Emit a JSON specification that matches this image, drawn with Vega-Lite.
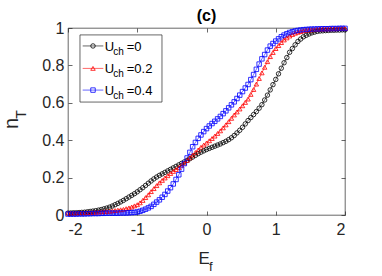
{
"$schema": "https://vega.github.io/schema/vega-lite/v6.json",
"width": 277, "height": 187,
"autosize": "none",
"padding": {"left": 68, "top": 28, "right": 37, "bottom": 61},
"background": "white",
"config": {"font": "Liberation Sans", "view": {"stroke": "#262626", "strokeWidth": 0.7},
  "axis": {"grid": false, "domain": false, "tickSize": -4, "tickColor": "#262626", "tickWidth": 0.7, "labelFont": "Liberation Sans", "labelFontSize": 16, "labelColor": "#262626"}},
"title": {"text": "(c)", "fontSize": 16, "fontWeight": "bold", "font": "Liberation Sans", "color": "#000000", "offset": -4},
"datasets": {"d": [
{"E":-2.00,"a":0.010,"b":0.010,"c":0.005},
{"E":-1.96,"a":0.011,"b":0.010,"c":0.005},
{"E":-1.92,"a":0.012,"b":0.011,"c":0.005},
{"E":-1.88,"a":0.012,"b":0.011,"c":0.005},
{"E":-1.84,"a":0.013,"b":0.012,"c":0.006},
{"E":-1.80,"a":0.014,"b":0.012,"c":0.006},
{"E":-1.76,"a":0.015,"b":0.012,"c":0.006},
{"E":-1.72,"a":0.017,"b":0.013,"c":0.007},
{"E":-1.68,"a":0.019,"b":0.013,"c":0.007},
{"E":-1.64,"a":0.021,"b":0.014,"c":0.008},
{"E":-1.60,"a":0.023,"b":0.015,"c":0.008},
{"E":-1.56,"a":0.026,"b":0.016,"c":0.008},
{"E":-1.52,"a":0.029,"b":0.017,"c":0.009},
{"E":-1.48,"a":0.033,"b":0.018,"c":0.009},
{"E":-1.44,"a":0.037,"b":0.019,"c":0.010},
{"E":-1.40,"a":0.042,"b":0.020,"c":0.010},
{"E":-1.36,"a":0.048,"b":0.022,"c":0.010},
{"E":-1.32,"a":0.055,"b":0.024,"c":0.010},
{"E":-1.28,"a":0.062,"b":0.026,"c":0.010},
{"E":-1.24,"a":0.070,"b":0.028,"c":0.011},
{"E":-1.20,"a":0.078,"b":0.030,"c":0.011},
{"E":-1.16,"a":0.087,"b":0.034,"c":0.011},
{"E":-1.12,"a":0.096,"b":0.038,"c":0.012},
{"E":-1.08,"a":0.105,"b":0.043,"c":0.013},
{"E":-1.04,"a":0.114,"b":0.049,"c":0.014},
{"E":-1.00,"a":0.124,"b":0.055,"c":0.016},
{"E":-0.96,"a":0.135,"b":0.065,"c":0.020},
{"E":-0.92,"a":0.146,"b":0.078,"c":0.025},
{"E":-0.88,"a":0.158,"b":0.093,"c":0.031},
{"E":-0.84,"a":0.170,"b":0.108,"c":0.038},
{"E":-0.80,"a":0.182,"b":0.125,"c":0.046},
{"E":-0.76,"a":0.193,"b":0.141,"c":0.057},
{"E":-0.72,"a":0.203,"b":0.157,"c":0.069},
{"E":-0.68,"a":0.212,"b":0.172,"c":0.081},
{"E":-0.64,"a":0.220,"b":0.185,"c":0.095},
{"E":-0.60,"a":0.228,"b":0.198,"c":0.110},
{"E":-0.56,"a":0.236,"b":0.210,"c":0.128},
{"E":-0.52,"a":0.244,"b":0.222,"c":0.146},
{"E":-0.48,"a":0.252,"b":0.233,"c":0.166},
{"E":-0.44,"a":0.260,"b":0.243,"c":0.190},
{"E":-0.40,"a":0.268,"b":0.254,"c":0.215},
{"E":-0.36,"a":0.276,"b":0.266,"c":0.245},
{"E":-0.32,"a":0.284,"b":0.278,"c":0.275},
{"E":-0.28,"a":0.292,"b":0.292,"c":0.305},
{"E":-0.24,"a":0.301,"b":0.306,"c":0.335},
{"E":-0.20,"a":0.310,"b":0.320,"c":0.365},
{"E":-0.16,"a":0.319,"b":0.334,"c":0.388},
{"E":-0.12,"a":0.328,"b":0.348,"c":0.410},
{"E":-0.08,"a":0.336,"b":0.362,"c":0.428},
{"E":-0.04,"a":0.343,"b":0.374,"c":0.446},
{"E":0.00,"a":0.350,"b":0.385,"c":0.462},
{"E":0.04,"a":0.356,"b":0.397,"c":0.476},
{"E":0.08,"a":0.362,"b":0.409,"c":0.489},
{"E":0.12,"a":0.368,"b":0.422,"c":0.501},
{"E":0.16,"a":0.374,"b":0.436,"c":0.514},
{"E":0.20,"a":0.380,"b":0.450,"c":0.527},
{"E":0.24,"a":0.387,"b":0.466,"c":0.542},
{"E":0.28,"a":0.394,"b":0.482,"c":0.557},
{"E":0.32,"a":0.403,"b":0.499,"c":0.573},
{"E":0.36,"a":0.413,"b":0.517,"c":0.589},
{"E":0.40,"a":0.425,"b":0.535,"c":0.605},
{"E":0.44,"a":0.439,"b":0.551,"c":0.623},
{"E":0.48,"a":0.453,"b":0.567,"c":0.641},
{"E":0.52,"a":0.469,"b":0.584,"c":0.660},
{"E":0.56,"a":0.487,"b":0.602,"c":0.679},
{"E":0.60,"a":0.505,"b":0.620,"c":0.698},
{"E":0.64,"a":0.521,"b":0.645,"c":0.724},
{"E":0.68,"a":0.537,"b":0.671,"c":0.751},
{"E":0.72,"a":0.553,"b":0.700,"c":0.779},
{"E":0.76,"a":0.571,"b":0.730,"c":0.807},
{"E":0.80,"a":0.590,"b":0.760,"c":0.835},
{"E":0.84,"a":0.615,"b":0.790,"c":0.858},
{"E":0.88,"a":0.641,"b":0.820,"c":0.882},
{"E":0.92,"a":0.669,"b":0.847,"c":0.903},
{"E":0.96,"a":0.697,"b":0.869,"c":0.917},
{"E":1.00,"a":0.725,"b":0.890,"c":0.930},
{"E":1.04,"a":0.755,"b":0.906,"c":0.942},
{"E":1.08,"a":0.785,"b":0.922,"c":0.953},
{"E":1.12,"a":0.814,"b":0.936,"c":0.962},
{"E":1.16,"a":0.842,"b":0.947,"c":0.969},
{"E":1.20,"a":0.870,"b":0.957,"c":0.976},
{"E":1.24,"a":0.890,"b":0.965,"c":0.980},
{"E":1.28,"a":0.910,"b":0.972,"c":0.984},
{"E":1.32,"a":0.928,"b":0.977,"c":0.987},
{"E":1.36,"a":0.941,"b":0.981,"c":0.989},
{"E":1.40,"a":0.953,"b":0.985,"c":0.991},
{"E":1.44,"a":0.961,"b":0.987,"c":0.992},
{"E":1.48,"a":0.968,"b":0.989,"c":0.993},
{"E":1.52,"a":0.974,"b":0.990,"c":0.994},
{"E":1.56,"a":0.978,"b":0.991,"c":0.994},
{"E":1.60,"a":0.982,"b":0.993,"c":0.995},
{"E":1.64,"a":0.984,"b":0.994,"c":0.995},
{"E":1.68,"a":0.985,"b":0.994,"c":0.996},
{"E":1.72,"a":0.986,"b":0.995,"c":0.996},
{"E":1.76,"a":0.987,"b":0.995,"c":0.996},
{"E":1.80,"a":0.988,"b":0.996,"c":0.997},
{"E":1.84,"a":0.988,"b":0.996,"c":0.997},
{"E":1.88,"a":0.989,"b":0.996,"c":0.997},
{"E":1.92,"a":0.989,"b":0.997,"c":0.998},
{"E":1.96,"a":0.990,"b":0.997,"c":0.998},
{"E":2.00,"a":0.990,"b":0.997,"c":0.998}
]},
"resolve": {"axis": {"x": "independent", "y": "independent"}},
"layer": [
{"data": {"name": "d"}, "transform": [{"fold": ["a", "b", "c"], "as": ["s", "n"]}],
 "mark": {"type": "line", "strokeWidth": 0.6},
 "encoding": {
  "x": {"field": "E", "type": "quantitative", "scale": {"domain": [-2, 2]}, "axis": {"orient": "bottom", "values": [-2, -1, 0, 1, 2], "labelExpr": "'' + datum.value", "labelPadding": 10, "title": null}},
  "y": {"field": "n", "type": "quantitative", "scale": {"domain": [0, 1]}, "axis": {"orient": "left", "values": [0, 0.2, 0.4, 0.6, 0.8, 1], "labelExpr": "'' + datum.value", "labelPadding": 8, "title": null}},
  "color": {"field": "s", "type": "nominal", "scale": {"domain": ["a", "b", "c"], "range": ["#000000", "#ff0000", "#0000ff"]}, "legend": null},
  "order": {"field": "E", "type": "quantitative"}
 }},
{"data": {"name": "d"}, "transform": [{"fold": ["a", "b", "c"], "as": ["s", "n"]}],
 "mark": {"type": "point", "filled": false, "size": 20, "strokeWidth": 0.8, "opacity": 1},
 "encoding": {
  "x": {"field": "E", "type": "quantitative", "scale": {"domain": [-2, 2]}, "axis": {"orient": "top", "values": [-2, -1, 0, 1, 2], "labels": false, "title": null}},
  "y": {"field": "n", "type": "quantitative", "scale": {"domain": [0, 1]}, "axis": {"orient": "right", "values": [0, 0.2, 0.4, 0.6, 0.8, 1], "labels": false, "title": null}},
  "color": {"field": "s", "type": "nominal", "scale": {"domain": ["a", "b", "c"], "range": ["#000000", "#ff0000", "#0000ff"]}, "legend": null},
  "shape": {"field": "s", "type": "nominal", "scale": {"domain": ["a", "b", "c"], "range": ["circle", "triangle-up", "square"]}, "legend": null}
 }},
{"data": {"values": [{}]}, "mark": {"type": "rect", "fill": "white", "stroke": "#262626", "strokeWidth": 0.7},
 "encoding": {"x": {"datum": -1.827, "axis": null}, "x2": {"datum": -0.643}, "y": {"datum": 0.963, "axis": null}, "y2": {"datum": 0.604}}},
{"data": {"values": [{}]}, "mark": {"type": "rule", "color": "#000000", "strokeWidth": 0.6},
 "encoding": {"x": {"datum": -1.788, "axis": null}, "x2": {"datum": -1.49}, "y": {"datum": 0.904, "axis": null}}},
{"data": {"values": [{}]}, "mark": {"type": "rule", "color": "#ff0000", "strokeWidth": 0.6},
 "encoding": {"x": {"datum": -1.788, "axis": null}, "x2": {"datum": -1.49}, "y": {"datum": 0.784, "axis": null}}},
{"data": {"values": [{}]}, "mark": {"type": "rule", "color": "#0000ff", "strokeWidth": 0.6},
 "encoding": {"x": {"datum": -1.788, "axis": null}, "x2": {"datum": -1.49}, "y": {"datum": 0.668, "axis": null}}},
{"data": {"values": [{}]}, "mark": {"type": "point", "shape": "circle", "filled": false, "size": 20, "strokeWidth": 0.8, "color": "#000000", "opacity": 1},
 "encoding": {"x": {"datum": -1.639, "axis": null}, "y": {"datum": 0.904, "axis": null}}},
{"data": {"values": [{}]}, "mark": {"type": "point", "shape": "triangle-up", "filled": false, "size": 20, "strokeWidth": 0.8, "color": "#ff0000", "opacity": 1},
 "encoding": {"x": {"datum": -1.639, "axis": null}, "y": {"datum": 0.784, "axis": null}}},
{"data": {"values": [{}]}, "mark": {"type": "point", "shape": "square", "filled": false, "size": 20, "strokeWidth": 0.8, "color": "#0000ff", "opacity": 1},
 "encoding": {"x": {"datum": -1.639, "axis": null}, "y": {"datum": 0.668, "axis": null}}},
{"data": {"values": [{}]}, "mark": {"type": "text", "text": "U", "fontSize": 13, "align": "left", "baseline": "alphabetic", "dy": 5, "color": "#000000"},
 "encoding": {"x": {"datum": -1.47, "axis": null}, "y": {"datum": 0.904, "axis": null}}},
{"data": {"values": [{}]}, "mark": {"type": "text", "text": "U", "fontSize": 13, "align": "left", "baseline": "alphabetic", "dy": 5, "color": "#000000"},
 "encoding": {"x": {"datum": -1.47, "axis": null}, "y": {"datum": 0.784, "axis": null}}},
{"data": {"values": [{}]}, "mark": {"type": "text", "text": "U", "fontSize": 13, "align": "left", "baseline": "alphabetic", "dy": 5, "color": "#000000"},
 "encoding": {"x": {"datum": -1.47, "axis": null}, "y": {"datum": 0.668, "axis": null}}},
{"data": {"values": [{}]}, "mark": {"type": "text", "text": "ch", "fontSize": 10, "align": "left", "baseline": "alphabetic", "dx": 8.5, "dy": 9, "color": "#000000"},
 "encoding": {"x": {"datum": -1.47, "axis": null}, "y": {"datum": 0.904, "axis": null}}},
{"data": {"values": [{}]}, "mark": {"type": "text", "text": "ch", "fontSize": 10, "align": "left", "baseline": "alphabetic", "dx": 8.5, "dy": 9, "color": "#000000"},
 "encoding": {"x": {"datum": -1.47, "axis": null}, "y": {"datum": 0.784, "axis": null}}},
{"data": {"values": [{}]}, "mark": {"type": "text", "text": "ch", "fontSize": 10, "align": "left", "baseline": "alphabetic", "dx": 8.5, "dy": 9, "color": "#000000"},
 "encoding": {"x": {"datum": -1.47, "axis": null}, "y": {"datum": 0.668, "axis": null}}},
{"data": {"values": [{}]}, "mark": {"type": "text", "text": "=0", "fontSize": 13, "align": "left", "baseline": "alphabetic", "dx": 22, "dy": 5, "color": "#000000"},
 "encoding": {"x": {"datum": -1.47, "axis": null}, "y": {"datum": 0.904, "axis": null}}},
{"data": {"values": [{}]}, "mark": {"type": "text", "text": "=0.2", "fontSize": 13, "align": "left", "baseline": "alphabetic", "dx": 22, "dy": 5, "color": "#000000"},
 "encoding": {"x": {"datum": -1.47, "axis": null}, "y": {"datum": 0.784, "axis": null}}},
{"data": {"values": [{}]}, "mark": {"type": "text", "text": "=0.4", "fontSize": 13, "align": "left", "baseline": "alphabetic", "dx": 22, "dy": 5, "color": "#000000"},
 "encoding": {"x": {"datum": -1.47, "axis": null}, "y": {"datum": 0.668, "axis": null}}},
{"data": {"values": [{}]}, "mark": {"type": "text", "text": "E", "fontSize": 17, "align": "left", "baseline": "alphabetic", "dx": -8, "dy": 49, "color": "#262626"},
 "encoding": {"x": {"datum": 0, "axis": null}, "y": {"datum": 0, "axis": null}}},
{"data": {"values": [{}]}, "mark": {"type": "text", "text": "f", "fontSize": 13, "align": "left", "baseline": "alphabetic", "dx": 2.5, "dy": 56, "color": "#262626"},
 "encoding": {"x": {"datum": 0, "axis": null}, "y": {"datum": 0, "axis": null}}},
{"data": {"values": [{}]}, "mark": {"type": "text", "text": "n", "fontSize": 20, "angle": 270, "align": "center", "baseline": "alphabetic", "dx": -2, "dy": -50, "color": "#262626"},
 "encoding": {"x": {"datum": -2, "axis": null}, "y": {"datum": 0.5, "axis": null}}},
{"data": {"values": [{}]}, "mark": {"type": "text", "text": "T", "fontSize": 14, "angle": 270, "align": "center", "baseline": "alphabetic", "dx": 7, "dy": -42, "color": "#262626"},
 "encoding": {"x": {"datum": -2, "axis": null}, "y": {"datum": 0.5, "axis": null}}}
]
}
